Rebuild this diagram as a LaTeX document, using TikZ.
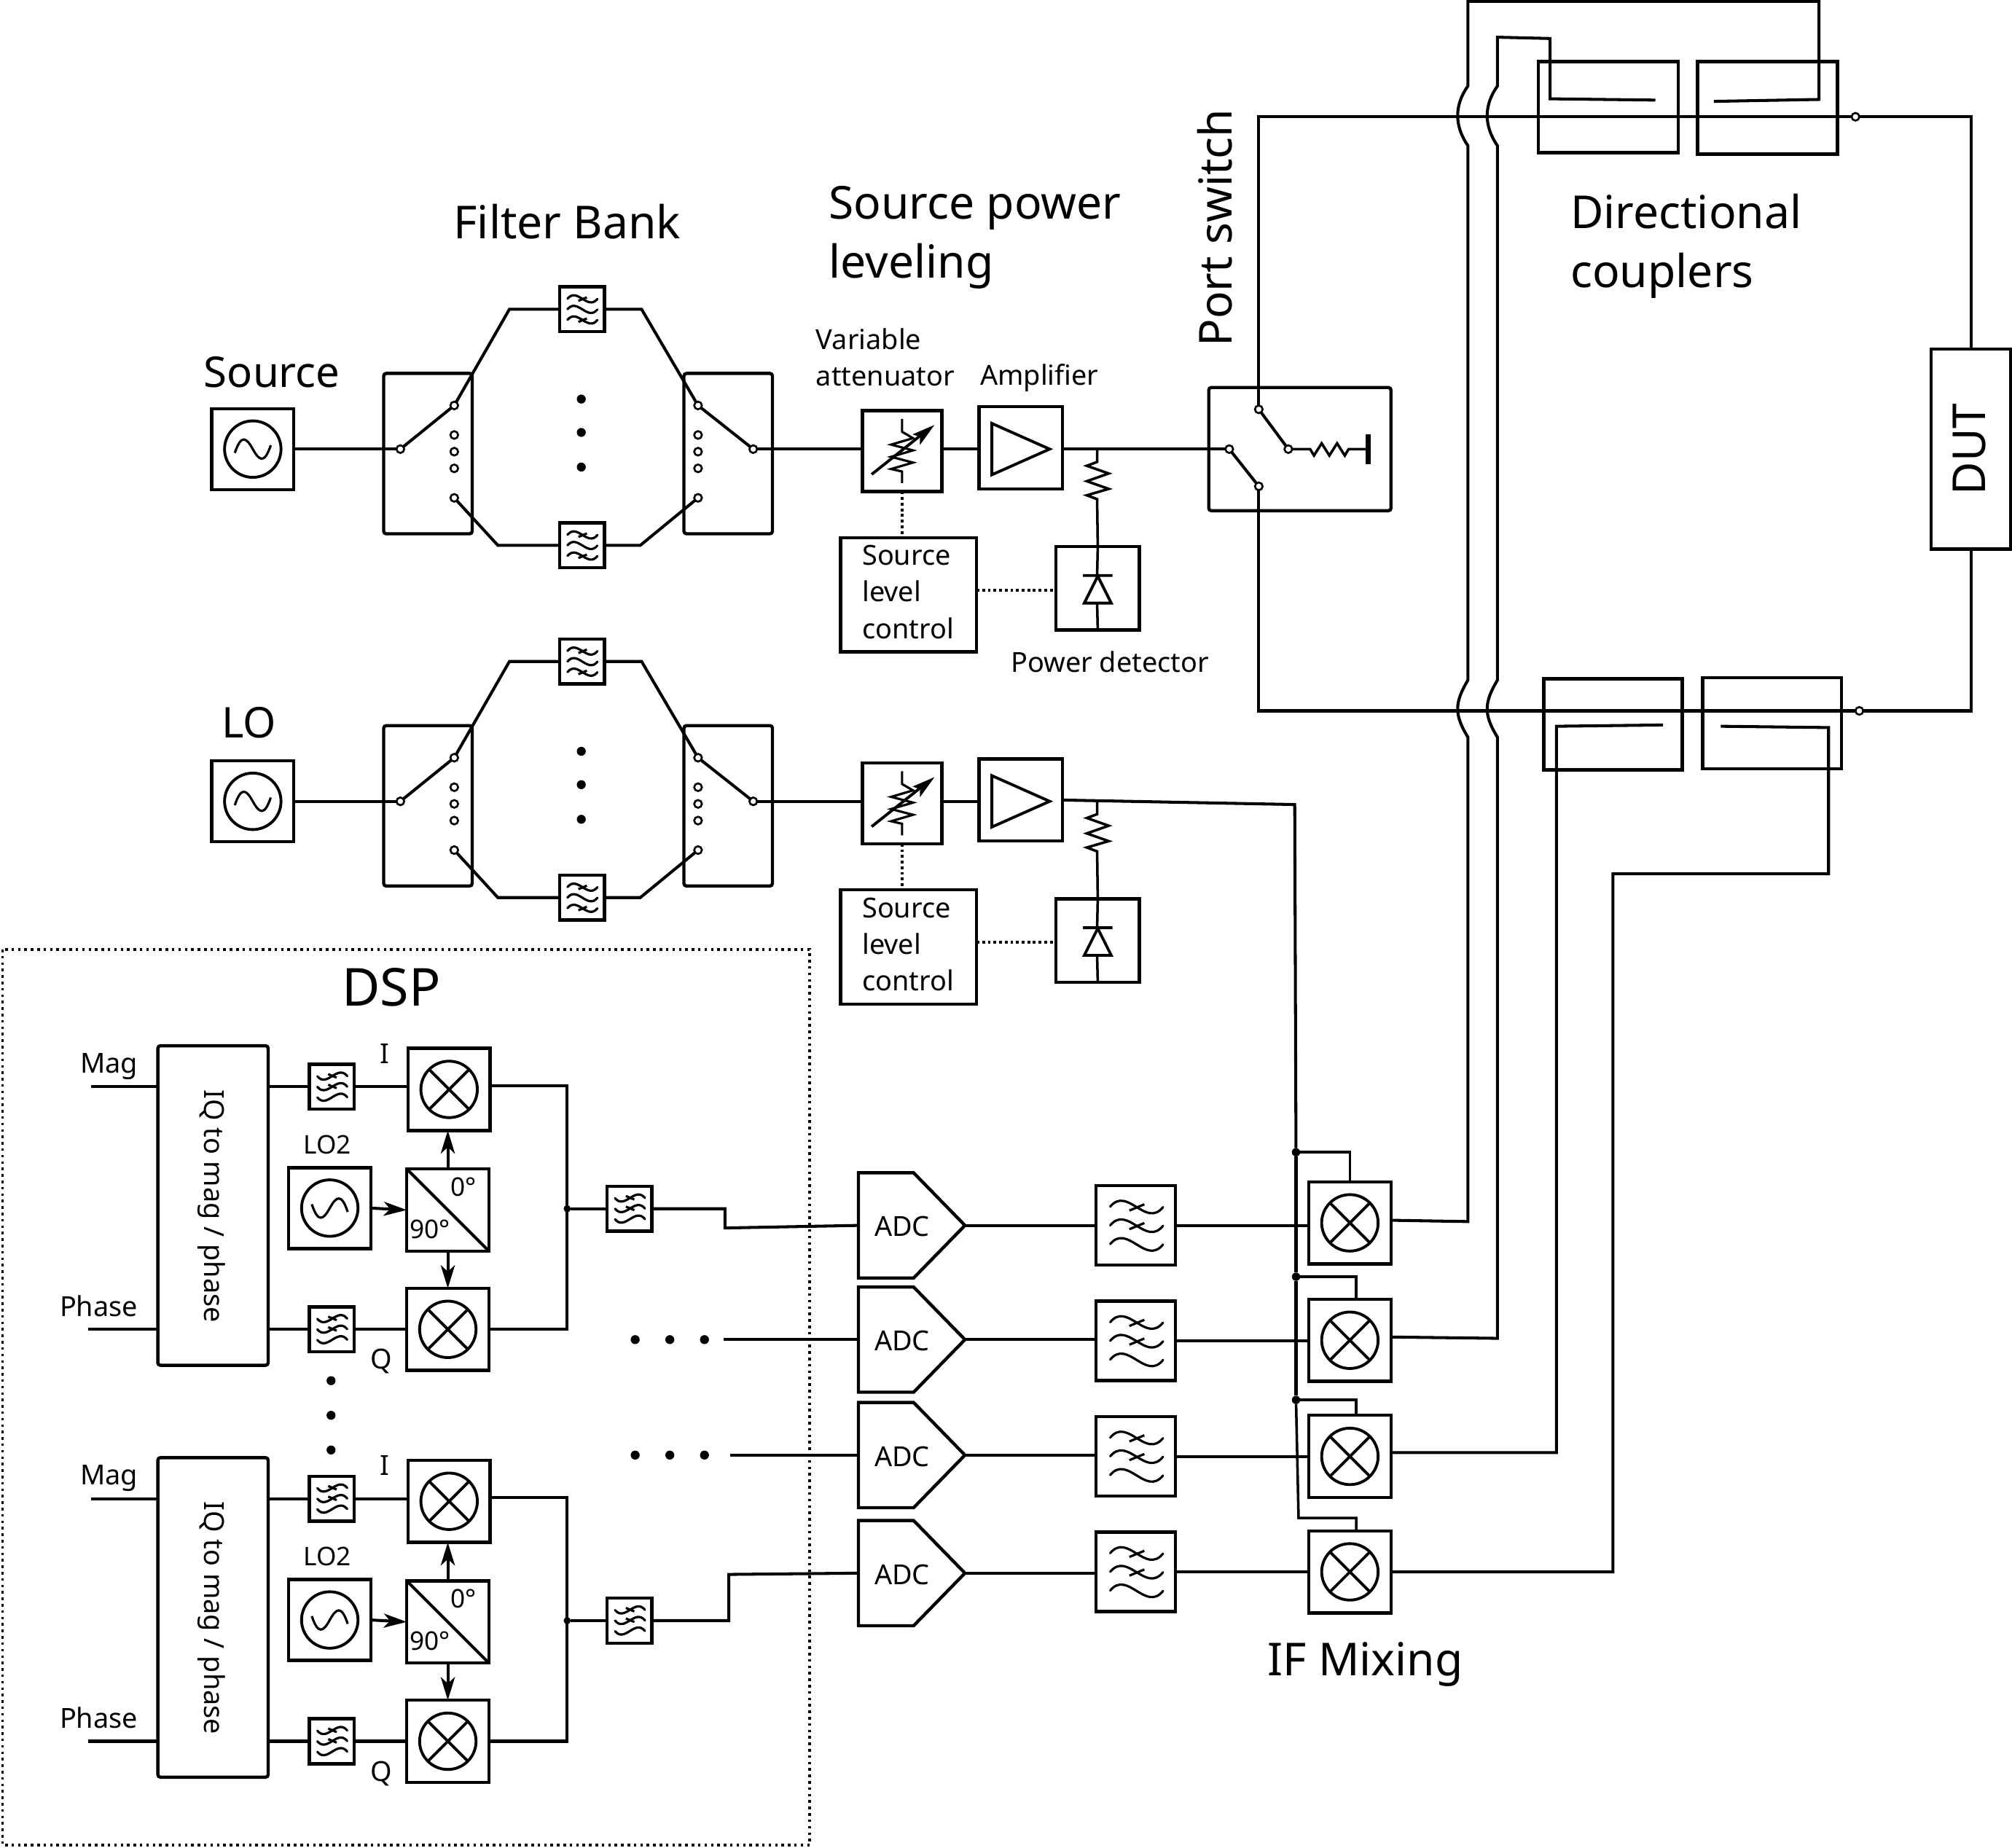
\documentclass[tikz,border=0pt]{standalone}
\usepackage{fontspec}
\setmainfont{Noto Sans}
\usetikzlibrary{calc,arrows.meta}
\tikzset{
  wire/.style={line width=2.3pt,line join=miter},
  thin wire/.style={line width=2pt},
  bx/.style={draw,line width=2.5pt,inner sep=0pt,outer sep=0pt,fill=none},
  rbx/.style={bx,rounded corners=2pt},
  sym/.style={line width=1.8pt},
  term/.style={circle,draw,fill=white,line width=1.5pt,minimum size=6pt,inner sep=0pt,outer sep=0pt},
  jdot/.style={circle,fill=black,minimum size=6.5pt,inner sep=0pt,outer sep=0pt},
  bdot/.style={circle,fill=black,minimum size=7pt,inner sep=0pt,outer sep=0pt},
  dots wire/.style={line width=2.3pt,dash pattern=on 2.2pt off 2.2pt},
  arr/.style={wire,-{Stealth[length=18pt,width=11pt,inset=5pt]}},
  big/.style={inner sep=0pt,outer sep=0pt,font=\fontsize{35.4}{46}\selectfont},
  mid/.style={inner sep=0pt,outer sep=0pt,font=\fontsize{21.5}{28.5}\selectfont},
  small/.style={inner sep=0pt,outer sep=0pt,font=\fontsize{20}{24}\selectfont},
}
% box from corners: [style]{name}{x1}{y1}{x2}{y2}
\newcommand\BX[6][bx]{%
  \pgfmathsetmacro\bxcx{(#3+#5)/2}\pgfmathsetmacro\bxcy{(#4+#6)/2}%
  \node[#1,minimum width={(#5-#3)*1pt},minimum height={(#6-#4)*1pt}] (#2) at (\bxcx,\bxcy) {};}
% oscillator: {name}{cx}{cy}{flip}
\newcommand\Osc[4]{%
  \node[bx,minimum width=64pt,minimum height=63pt] (#1) at (#2,#3) {};
  \begin{scope}[shift={(#2,#3)},yscale=#4]
    \draw[line width=2.2pt] (0,0) circle (22);
    \draw[sym] (-14,3) .. controls (-9,-12) and (-5,-9) .. (0,0) .. controls (5,9) and (9,12) .. (14,-3);
  \end{scope}}
% mixer
\newcommand\Mixer[3]{%
  \node[bx,minimum width=64pt,minimum height=64pt] (#1) at (#2,#3) {};
  \begin{scope}[shift={(#2,#3)}]
    \draw[line width=2.2pt] (0,0) circle (22);
    \draw[line width=2.2pt] (-15.5,-15.5) -- (15.5,15.5) (-15.5,15.5) -- (15.5,-15.5);
  \end{scope}}
% filter: {name}{cx}{cy}{half}{tick offset a}{tick offset b}{flip}
\newcommand\FilterBox[7]{%
  \node[bx,minimum size={2*#4*1pt}] (#1) at (#2,#3) {};
  \begin{scope}[shift={(#2,#3)},xscale=#4,yscale=#4*#7]
    \foreach \o in {0,.47,.94}
      \draw[sym,line cap=round] (-.64,\o-.47) .. controls (-.2,\o-1.0) and (.25,\o+.08) .. (.69,\o-.46);
    \foreach \o in {#5,#6}
      \draw[sym] (-.156,\o-.375) -- (.22,\o-.53);
  \end{scope}}
% source chain
\newcommand\Chain{%
  \Osc{osc}{197}{350}{1}
  \BX[rbx]{swl}{299}{291}{368}{416}
  \BX[rbx]{swr}{533}{291}{602}{416}
  \foreach \n/\x/\y in {pl/312/350,tl/354/316,al/354/339,bl/354/352,cl/354/365,dl/354/388,
                        pr/587/350,tr/544/316,ar/544/339,br/544/352,cr/544/365,dr/544/388}
    \node[term] (\n) at (\x,\y) {};
  \FilterBox{ftop}{453.5}{241}{17.5}{0}{.94}{1}
  \FilterBox{fbot}{453.5}{425}{17.5}{0}{.94}{1}
  \draw[wire] (osc.east) -- (pl);
  \draw[wire] (pl) -- (tl);
  \draw[wire] (tl) -- (397,241) -- (ftop.west);
  \draw[wire] (ftop.east) -- (500,241) -- (tr);
  \draw[wire] (dl) -- (388,425) -- (fbot.west);
  \draw[wire] (fbot.east) -- (499,425) -- (dr);
  \draw[wire] (tr) -- (pr);
  \node[bdot] (d1) at (453,311) {};
  \node[bdot] (d2) at (453,337) {};
  \node[bdot] (d3) at (453,364) {};
  % attenuator
  \BX{att}{672}{320}{734}{383}
  \begin{scope}[shift={(703,351.5)}]
    \draw[sym] (0,-25) -- (0,-15) -- (8.5,-10) -- (-8.5,-5) -- (8.5,-.5) -- (-8.5,4.5) -- (8.5,9) -- (-8.5,14) -- (0,16) -- (0,25);
    \draw[line width=2.2pt] (-23.7,18.2) -- (18,-15);
    \fill (25.2,-20.3) -- (8.2,-13) -- (14,-11) -- (13.9,-4.7) -- cycle;
  \end{scope}
  \draw[wire] (pr) -- (pr -| att.west);
  % amplifier
  \BX{amp}{763}{317}{828}{381}
  \draw[line width=2.2pt] (773,330) -- (818,350) -- (773,370) -- cycle;
  \draw[wire] (pr -| att.east) -- (pr -| amp.west);
  % level control
  \BX{slc}{655}{419}{761}{508}
  \node[mid,anchor=north west,align=left] (slct) at (672,425) {Source\\level\\control};
  \draw[dots wire] (att.south) -- (att.south |- slc.north);
  % detector
  \BX{det}{823}{426}{888}{491}
  \draw[dots wire] (slc.east |- 0,460) -- (det.west |- 0,460);
  \coordinate (rtop) at (855,350);
  \draw[thin wire] (rtop) -- (855,360) -- (847,363) -- (864,369) -- (847,375) -- (864,381) -- (847,386) -- (855,389) -- (det.north);
  \draw[thin wire] (det.north) -- (855,449) (855,470) -- (det.south);
  \draw[line width=2.2pt] (844,448.5) -- (867,448.5) (855.5,449) -- (845,470) -- (866,470) -- cycle;
}
% DSP block
\newcommand\Block{%
  \BX[rbx]{iq}{123}{815}{209}{1064}
  \node[mid,rotate=-90] (iqt) at (165,940) {IQ to mag / phase};
  \coordinate (mg) at (71,847); \coordinate (ph) at (69,1036);
  \draw[wire] (mg) -- (mg -| iq.west);
  \draw[wire] (ph) -- (ph -| iq.west);
  \node[mid,anchor=base] (tm) at (85,836) {Mag};
  \node[mid,anchor=base] (tp) at (77,1026) {Phase};
  \FilterBox{fi}{258.5}{847}{17.5}{.94}{.47}{-1}
  \FilterBox{fq}{258.5}{1036}{17.5}{.94}{.47}{-1}
  \Mixer{mi}{350}{849}
  \Mixer{mq}{349}{1036}
  \draw[wire] (fi.west -| iq.east) -- (fi.west);
  \draw[wire] (fq.west -| iq.east) -- (fq.west);
  \draw[wire] (fi.east) -- (fi.east -| mi.west);
  \draw[wire] (fq.east) -- (mq.west);
  \node[mid,anchor=base] (ti) at (300,829) {I};
  \node[mid,anchor=base] (tq) at (297,1067) {Q};
  \node[small,anchor=base] (tl2) at (255,899) {LO2};
  \Osc{lo2}{257}{941.5}{-1}
  \BX{split}{317}{911}{381}{975}
  \draw[wire] (split.north west) -- (split.south east);
  \node[small,anchor=base] (t0) at (361,932) {0°};
  \node[small,anchor=base] (t90) at (335,965) {90°};
  \draw[arr] (lo2.east) -- (split.west);
  \draw[arr] (split.north) -- (split.north |- mi.south);
  \draw[arr] (split.south) -- (mq.north);
  \coordinate (mio) at (382,846);
  \draw[wire] (mio) -- (442,846) -- (442,1036) -- (mq.east);
  \node[jdot,minimum size=5.5pt] (jn) at (442,942) {};
  \FilterBox{fo}{490.5}{942}{17.5}{.94}{.47}{-1}
  \draw[wire] (jn) -- (fo.west);
}
\newcommand\ADCbox[2]{%
  \pgfmathsetmacro\at{#2-41}\pgfmathsetmacro\ab{#2+41}%
  \coordinate (#1-in) at (669,#2); \coordinate (#1-out) at (752,#2);
  \draw[bx,line join=miter] (669,\at) -- (712,\at) -- (752,#2) -- (712,\ab) -- (669,\ab) -- cycle;
  \node[mid] (#1) at (703,#2+1) {ADC};}
\begin{document}
\begin{tikzpicture}[x=1pt,y=-1pt]
\useasboundingbox (0,0) rectangle (1568,1440.2);

% source and LO chains
\Chain
\begin{scope}[yshift=-274.5pt,name prefix=lo-]
\Chain
\end{scope}

% port switch
\BX[rbx]{port}{942}{302}{1084}{398}
\foreach \n/\x/\y in {pa/958/350,pb/981/379,pc/981/319,pd/1004/350}
  \node[term] (\n) at (\x,\y) {};
\draw[wire] (pa -| amp.east) -- (pa);
\draw[wire] (pa) -- (pb);
\draw[wire] (pc) -- (pd);
\draw[thin wire] (pd) -- (1021,350) -- (1024,355) -- (1030,345.5) -- (1036,355) -- (1042,345.5) -- (1048,355) -- (1051,350) -- (1066,350);
\node[fill=black,minimum width=4pt,minimum height=23pt,inner sep=0pt,outer sep=0pt] (gnd) at (1066,350) {};

% couplers, DUT
\BX{ct1}{1199}{48}{1308}{119}
\BX{ct2}{1323}{48}{1432}{120}
\BX{cb1}{1203}{529}{1311}{600}
\BX{cb2}{1327}{528}{1435}{599}
\BX{dut}{1505}{272}{1567}{428}
\node[term] (tt) at (1446,91) {};
\node[term] (tb) at (1449,554) {};
\draw[wire] (pc) -- (981,91) -- (tt);
\draw[wire] (tt) -- (1536,91) -- (dut.north);
\draw[wire] (dut.south) -- (1536,554) -- (tb);
\draw[wire] (tb) -- (981,554) -- (pb);

% LO distribution
\node[jdot] (j1) at (1010,898) {};
\node[jdot] (j2) at (1010,995) {};
\node[jdot] (j3) at (1010,1091) {};
\coordinate (lopt) at (1009,627);
\draw[wire] (lo-amp.east) -- (lopt) -- (j1);
\draw[wire] (j1) -- (j2);
\draw[wire] (j2) -- (j3);

% IF mixers
\Mixer{m1}{1052}{953}
\Mixer{m2}{1052}{1044.5}
\Mixer{m3}{1052}{1135}
\Mixer{m4}{1052}{1225}
\draw[thin wire] (j1) -- (1052,898) -- (m1.north);
\draw[thin wire] (j2) -- (1057,995) -- (1057,1012);
\draw[thin wire] (j3) -- (1057,1091) -- (1057,1103);
\draw[thin wire] (j3) -- (1012,1183) -- (1057,1183) -- (1057,1193);

% couplers to mixers
\coordinate (e1) at (1335.6,79);
\coordinate (e2) at (1290,78);
\coordinate (e3) at (1296,565);
\coordinate (e4) at (1341,566);
\draw[wire] (1085,951) -- (1144,952) -- (1144,574.6)
  .. controls (1133.3,557) and (1133.3,548) .. (1144,530) -- (1144,113.6)
  .. controls (1133.3,98) and (1133.3,82) .. (1144,67) -- (1144,1) -- (1417.5,1) -- (1417.5,77.5) -- (e1);
\draw[wire] (1085,1042) -- (1167,1043) -- (1167,574.6)
  .. controls (1156.3,557) and (1156.3,548) .. (1167,530) -- (1167,113.6)
  .. controls (1156.3,98) and (1156.3,82) .. (1167,67) -- (1167,29) -- (1208,30) -- (1208,77) -- (e2);
\draw[wire] (1085,1132) -- (1213,1132) -- (1213,566) -- (e3);
\draw[wire] (m4.east) -- (1257,1225) -- (1257,681) -- (1425,681) -- (1425,567) -- (e4);

% IF filters and ADCs
\ADCbox{adc1}{955}
\ADCbox{adc2}{1044}
\ADCbox{adc3}{1134}
\ADCbox{adc4}{1226}
\FilterBox{f1}{885}{955}{31}{0}{.47}{1}
\FilterBox{f2}{885}{1045}{31}{0}{.47}{1}
\FilterBox{f3}{885}{1135}{31}{0}{.47}{1}
\FilterBox{f4}{885}{1225}{31}{0}{.47}{1}
\foreach \i in {1,2,3,4}{
  \draw[wire] (adc\i-out) -- (adc\i-out -| f\i.west);
  \draw[wire] (f\i.east) -- (f\i.east -| m\i.west);
}

% DSP
\draw[line width=2pt,dash pattern=on 2pt off 3pt] (2,740) rectangle (631,1438);
\begin{scope}[name prefix=a-]
\Block
\node[bdot] (da) at (258,1076) {};
\node[bdot] (db) at (258,1103) {};
\node[bdot] (dc) at (258,1130) {};
\end{scope}
\begin{scope}[yshift=-321pt,name prefix=b-]
\Block
\end{scope}
\foreach \n/\x/\y in {q1/495/1044,q2/522/1044,q3/549/1044,q4/495/1134,q5/522/1134,q6/549/1134}
  \node[bdot] (\n) at (\x,\y) {};
\coordinate (i2) at (564,1044);
\coordinate (i3) at (569,1134);
\draw[wire] (a-fo.east) -- (565,942) -- (565,957) -- (adc1-in);
\draw[wire] (i2) -- (adc2-in);
\draw[wire] (i3) -- (adc3-in);
\draw[wire] (b-fo.east) -- (568,1263) -- (568,1227) -- (adc4-in);

% labels
\node[big,font=\fontsize{33}{46}\selectfont,anchor=base west] (lsrc) at (159,302) {Source};
\node[big,anchor=base] (lfb) at (442,186) {Filter Bank};
\node[big,anchor=north west,align=left] (lspl) at (646,145) {Source power\\leveling};
\node[mid,anchor=north west,align=left] (lva) at (636,256) {Variable\\attenuator};
\node[mid,anchor=base west] (lamp) at (764,300) {Amplifier};
\node[mid,anchor=base] (lpd) at (865,524) {Power detector};
\node[big,rotate=90,anchor=base west] (lps) at (960,270) {Port switch};
\node[big,anchor=north west,align=left] (ldc) at (1224,151) {Directional\\couplers};
\node[big,rotate=90] (ldut) at (1535,350) {DUT};
\node[big,font=\fontsize{33}{46}\selectfont,anchor=base west] (llo) at (173,575) {LO};
\node[big,font=\fontsize{40.8}{46}\selectfont,anchor=base] (ldsp) at (305,784) {DSP};
\node[big,anchor=base] (lif) at (1064,1306) {IF Mixing};
\end{tikzpicture}
\end{document}
